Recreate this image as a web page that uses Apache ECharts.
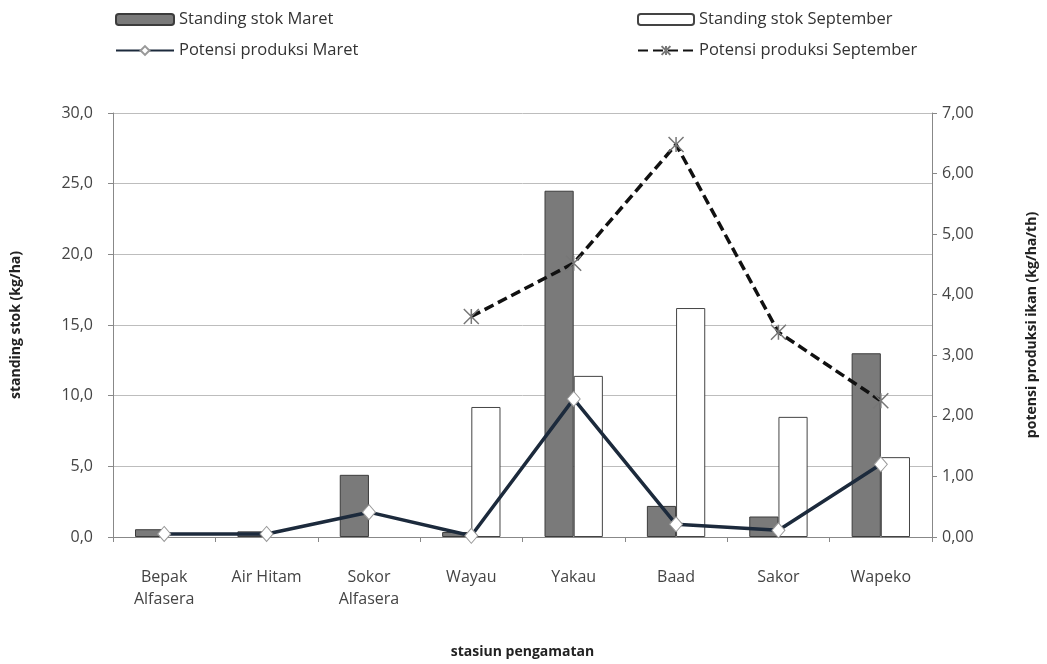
<!DOCTYPE html>
<html><head><meta charset="utf-8">
<script src="https://cdn.jsdelivr.net/npm/echarts@6/dist/echarts.min.js"></script>
<style>html,body{margin:0;padding:0;background:#fff}#c{width:1047px;height:664px}</style>
</head><body><div id="c"></div>
<script>
const categories = ['Bepak\nAlfasera','Air Hitam','Sokor\nAlfasera','Wayau','Yakau','Baad','Sakor','Wapeko'];
const stokMaret = [0.55, 0.4, 4.4, 0.35, 24.5, 2.2, 1.45, 13.0];
const stokSeptember = [null, null, null, 9.2, 11.4, 16.2, 8.5, 5.65];
const potensiMaret = [0.05, 0.05, 0.41, 0.02, 2.28, 0.21, 0.11, 1.2];
const potensiSeptember = [null, null, null, 3.64, 4.52, 6.48, 3.38, 2.25];

const FONT = 'Open Sans';
const chart = echarts.init(document.getElementById('c'), null, {renderer:'canvas'});
const fmt1 = v => v.toFixed(1).replace('.', ',');
const fmt2 = v => v.toFixed(2).replace('.', ',');
const xMark = 'path://M0,0L10,10M10,0L0,10M5,0L5,10';
chart.setOption({
  animation:false,
  textStyle:{fontFamily:FONT},
  legend:[
    {left:110, top:6, orient:'vertical', itemGap:14, itemWidth:58, itemHeight:11,
     textStyle:{fontSize:16.5, color:'#333', fontFamily:FONT},
     data:['Standing stok Maret','Potensi produksi Maret']},
    {left:632, top:6, orient:'vertical', itemGap:14, itemWidth:56, itemHeight:11,
     textStyle:{fontSize:16.5, color:'#333', fontFamily:FONT},
     data:['Standing stok September','Potensi produksi September']}
  ],
  grid:{left:113, right:114, top:113, bottom:124},
  xAxis:{type:'category', data:categories, boundaryGap:true,
    name:'stasiun pengamatan', nameLocation:'middle', nameGap:108,
    nameTextStyle:{fontSize:14, fontWeight:'bold', color:'#222'},
    axisLine:{lineStyle:{color:'#888'}},
    axisTick:{show:true, alignWithLabel:false, length:5, lineStyle:{color:'#888'}},
    axisLabel:{fontSize:16, color:'#444', margin:29, lineHeight:22, interval:0}},
  yAxis:[
    {type:'value', min:0, max:30, interval:5,
     name:'standing stok (kg/ha)', nameLocation:'middle', nameGap:90, nameRotate:90,
     nameTextStyle:{fontSize:14, fontWeight:'bold', color:'#222'},
     axisLine:{show:true, lineStyle:{color:'#888'}},
     axisTick:{show:true, length:5, lineStyle:{color:'#888'}},
     axisLabel:{formatter:fmt1, fontSize:16, color:'#444', margin:20},
     splitLine:{lineStyle:{color:'#bdbdbd', width:1}}},
    {type:'value', min:0, max:7, interval:1,
     name:'potensi produksi ikan (kg/ha/th)', nameLocation:'middle', nameGap:93, nameRotate:90,
     nameTextStyle:{fontSize:14, fontWeight:'bold', color:'#222'},
     axisLine:{show:true, lineStyle:{color:'#888'}},
     axisTick:{show:true, length:5, inside:false, lineStyle:{color:'#888'}},
     axisLabel:{formatter:fmt2, fontSize:16, color:'#444', margin:10},
     splitLine:{show:false}}
  ],
  series:[
    {name:'Standing stok Maret', type:'bar', data:stokMaret, barGap:'0%', barCategoryGap:'43%',
     itemStyle:{color:'#7a7a7a', borderColor:'#3c3c3c', borderWidth:1}},
    {name:'Standing stok September', type:'bar', data:stokSeptember,
     itemStyle:{color:'#ffffff', borderColor:'#444', borderWidth:1}},
    {name:'Potensi produksi Maret', type:'line', yAxisIndex:1, data:potensiMaret,
     symbol:'diamond', symbolSize:[13,15], showAllSymbol:true,
     lineStyle:{color:'#1c2a3c', width:3.5},
     itemStyle:{color:'#ffffff', borderColor:'#999', borderWidth:1}},
    {name:'Potensi produksi September', type:'line', yAxisIndex:1, data:potensiSeptember,
     symbol:xMark, symbolSize:15, showAllSymbol:true, connectNulls:false,
     lineStyle:{color:'#111', width:3.5, type:[10,5]},
     itemStyle:{color:'transparent', borderColor:'#777', borderWidth:1.5}}
  ]
});
</script></body></html>
